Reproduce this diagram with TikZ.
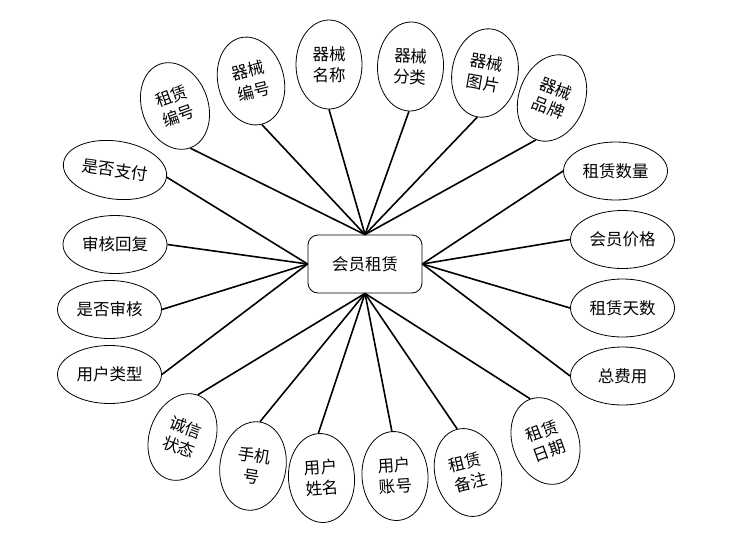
\documentclass[tikz,border=0pt]{standalone}
\usepackage{fontspec}
\setmainfont{Noto Sans CJK SC}
\usetikzlibrary{shapes.geometric}
\begin{document}
\begin{tikzpicture}[x=1pt,y=-1pt,
  attr/.style={draw, ellipse, line width=0.8pt, inner sep=0pt, align=center, font=\fontsize{16.5}{21}\selectfont},
  hattr/.style={attr, minimum width=104pt, minimum height=58pt},
  vattr/.style={attr, minimum width=66pt, minimum height=89pt},
  ent/.style={draw, rounded corners=10pt, line width=0.8pt, minimum width=114pt, minimum height=58pt, font=\fontsize{16.5}{21}\selectfont},
  link/.style={line width=1.6pt}]
\useasboundingbox[fill=white] (0,0) rectangle (752,552);

\node[ent] (c) at (365,264) {会员租赁};

% top
\node[vattr, rotate=20]  (zlbh) at (175,106) {租赁\\编号};
\node[vattr, rotate=14]  (qxbh) at (251,81)  {器械\\编号};
\node[vattr]             (qxmc) at (329,64.5) {器械\\名称};
\node[vattr, rotate=-2]  (qxfl) at (410.5,66.5) {器械\\分类};
\node[vattr, rotate=-10] (qxtp) at (485,73)  {器械\\图片};
\node[vattr, rotate=-21] (qxpp) at (552,98)  {器械\\品牌};

% left
\node[hattr, rotate=-8] (sfzf) at (115,170)   {是否支付};
\node[hattr]            (shhf) at (115,244.5) {审核回复};
\node[hattr]            (sfsh) at (109.5,309.5) {是否审核};
\node[hattr]            (yhlx) at (109.5,374.5) {用户类型};

% right
\node[hattr] (zlsl) at (615.5,171) {租赁数量};
\node[hattr] (hyjg) at (622.5,239.5) {会员价格};
\node[hattr] (zlts) at (622.5,308) {租赁天数};
\node[hattr] (zfy)  at (622.5,376) {总费用};

% bottom
\node[vattr, rotate=-20] (cxzt) at (182.5,437) {诚信\\状态};
\node[vattr, rotate=-9]  (sjh)  at (253,466)   {手机\\号};
\node[vattr, rotate=4]   (yhxm) at (321.5,478) {用户\\姓名};
\node[vattr, rotate=4]   (yhzh) at (395,476)   {用户\\账号};
\node[vattr, rotate=14]  (zlbz) at (468,472.5) {租赁\\备注};
\node[vattr, rotate=20]  (zlrq) at (545.5,441) {租赁\\日期};

% links
\foreach \n in {zlbh,qxbh,qxmc,qxfl,qxtp,qxpp}
  \draw[link] (c.north) -- (\n.south);
\foreach \n in {sfzf,shhf,sfsh,yhlx}
  \draw[link] (c.west) -- (\n.east);
\foreach \n in {zlsl,hyjg,zlts,zfy}
  \draw[link] (c.east) -- (\n.west);
\foreach \n in {cxzt,sjh,yhxm,yhzh,zlbz,zlrq}
  \draw[link] (c.south) -- (\n.north);
\end{tikzpicture}
\end{document}
